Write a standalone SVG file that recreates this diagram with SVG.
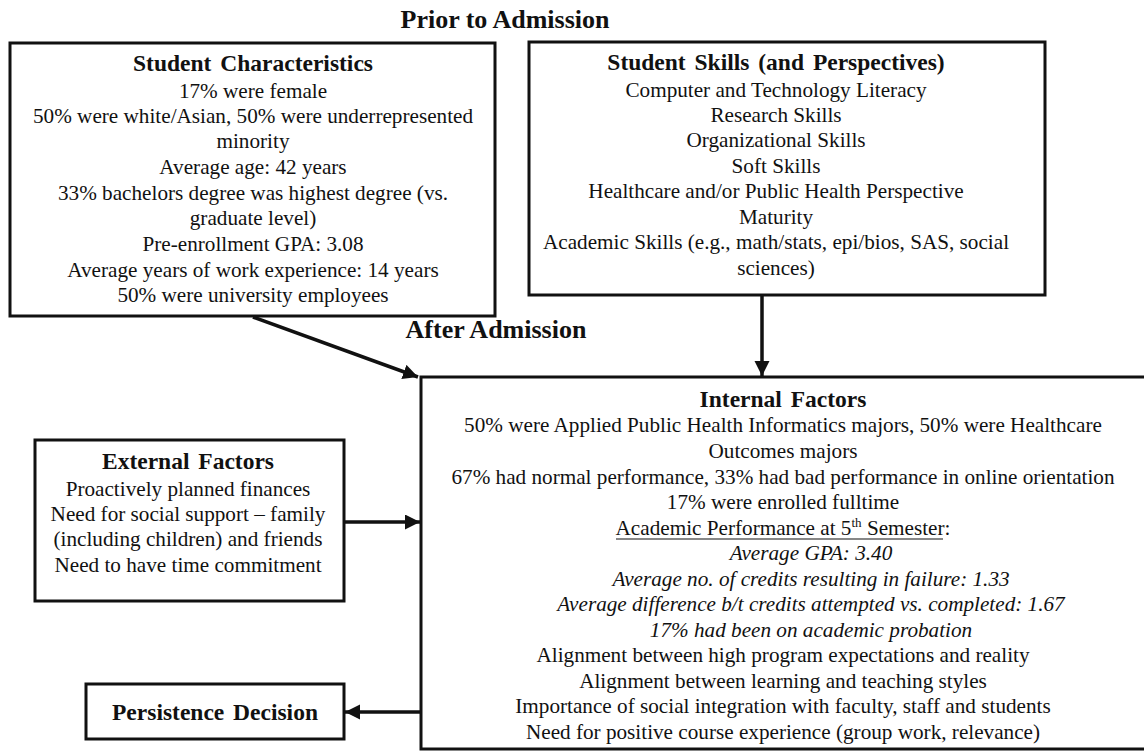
<svg xmlns="http://www.w3.org/2000/svg" width="1144" height="751" viewBox="0 0 1144 751">
  <style>
    text { font-family: "Liberation Serif", "Times New Roman", serif; fill: #111; text-anchor: middle; }
    .hd { font-size: 26px; font-weight: bold; }
    .ttl { font-size: 23.5px; font-weight: bold; word-spacing: 3px; }
    .bd { font-size: 21.2px; }
    .it { font-size: 21.2px; font-style: italic; }
    .box { fill: #fff; stroke: #111; stroke-width: 3; }
    .conn { stroke: #111; stroke-width: 3.5; fill: none; }
  </style>
  <defs>
    <marker id="arrow" markerUnits="userSpaceOnUse" markerWidth="17" markerHeight="16" refX="15" refY="7.5" orient="auto">
      <path d="M0,0 L15,7.5 L0,15 Z" fill="#111"/>
    </marker>
  </defs>
  <rect width="1144" height="751" fill="#fff"/>

  <!-- section headings -->
  <text class="hd" x="505" y="28">Prior to Admission</text>
  <text class="hd" x="496" y="338">After Admission</text>

  <g id="student-characteristics">
    <rect class="box" x="10" y="43" width="485" height="273"/>
    <text class="ttl" x="253" y="71">Student Characteristics</text>
    <text class="bd" x="253" y="98">17% were female</text>
    <text class="bd" x="253" y="123">50% were white/Asian,  50% were underrepresented</text>
    <text class="bd" x="253" y="148">minority</text>
    <text class="bd" x="253" y="174">Average age: 42 years</text>
    <text class="bd" x="253" y="200">33% bachelors degree was highest degree (vs.</text>
    <text class="bd" x="253" y="225">graduate level)</text>
    <text class="bd" x="253" y="251">Pre-enrollment GPA: 3.08</text>
    <text class="bd" x="253" y="277">Average years of work experience: 14 years</text>
    <text class="bd" x="253" y="302">50% were university employees</text>
  </g>

  <g id="student-skills">
    <rect class="box" x="529" y="42" width="516" height="253"/>
    <text class="ttl" x="776" y="70">Student Skills (and Perspectives)</text>
    <text class="bd" x="776" y="97">Computer and Technology Literacy</text>
    <text class="bd" x="776" y="122">Research Skills</text>
    <text class="bd" x="776" y="147">Organizational Skills</text>
    <text class="bd" x="776" y="173">Soft Skills</text>
    <text class="bd" x="776" y="198">Healthcare and/or Public Health Perspective</text>
    <text class="bd" x="776" y="224">Maturity</text>
    <text class="bd" x="776" y="249">Academic Skills (e.g., math/stats, epi/bios, SAS, social</text>
    <text class="bd" x="776" y="275">sciences)</text>
  </g>

  <g id="internal-factors">
    <rect class="box" x="421" y="377" width="740" height="372"/>
    <text class="ttl" x="783" y="407">Internal Factors</text>
    <text class="bd" x="783" y="432">50% were Applied Public Health Informatics majors, 50% were Healthcare</text>
    <text class="bd" x="783" y="458">Outcomes majors</text>
    <text class="bd" x="783" y="484">67% had normal performance, 33% had bad performance in online orientation</text>
    <text class="bd" x="783" y="509">17% were enrolled fulltime</text>
    <text class="bd" x="783" y="535">Academic Performance at 5<tspan font-size="13" dy="-8">th</tspan><tspan dy="8"> Semester:</tspan></text>
    <line x1="616" y1="539" x2="943" y2="539" stroke="#111" stroke-width="1.2"/>
    <text class="it" x="811" y="560">Average GPA: 3.40</text>
    <text class="it" x="811" y="586">Average no. of credits resulting in failure: 1.33</text>
    <text class="it" x="811" y="611">Average difference b/t credits attempted vs. completed: 1.67</text>
    <text class="it" x="811" y="637">17% had been on academic probation</text>
    <text class="bd" x="783" y="662">Alignment between high program expectations and reality</text>
    <text class="bd" x="783" y="688">Alignment between learning and teaching styles</text>
    <text class="bd" x="783" y="713">Importance of social integration with faculty, staff and students</text>
    <text class="bd" x="783" y="739">Need for positive course experience (group work, relevance)</text>
  </g>

  <g id="external-factors">
    <rect class="box" x="35" y="440" width="309" height="161"/>
    <text class="ttl" x="188" y="469">External Factors</text>
    <text class="bd" x="188" y="496">Proactively planned finances</text>
    <text class="bd" x="188" y="521">Need for social support – family</text>
    <text class="bd" x="188" y="546">(including children) and friends</text>
    <text class="bd" x="188" y="572">Need to have time commitment</text>
  </g>

  <g id="persistence-decision">
    <rect class="box" x="86" y="684" width="258" height="55"/>
    <text class="ttl" x="215" y="720">Persistence Decision</text>
  </g>

  <g id="connectors">
    <line class="conn" x1="253" y1="317" x2="418" y2="377" marker-end="url(#arrow)"/>
    <line class="conn" x1="762" y1="296" x2="762" y2="376" marker-end="url(#arrow)"/>
    <line class="conn" x1="345" y1="522" x2="420" y2="522" marker-end="url(#arrow)"/>
    <line class="conn" x1="420" y1="712" x2="345" y2="712" marker-end="url(#arrow)"/>
  </g>
</svg>
